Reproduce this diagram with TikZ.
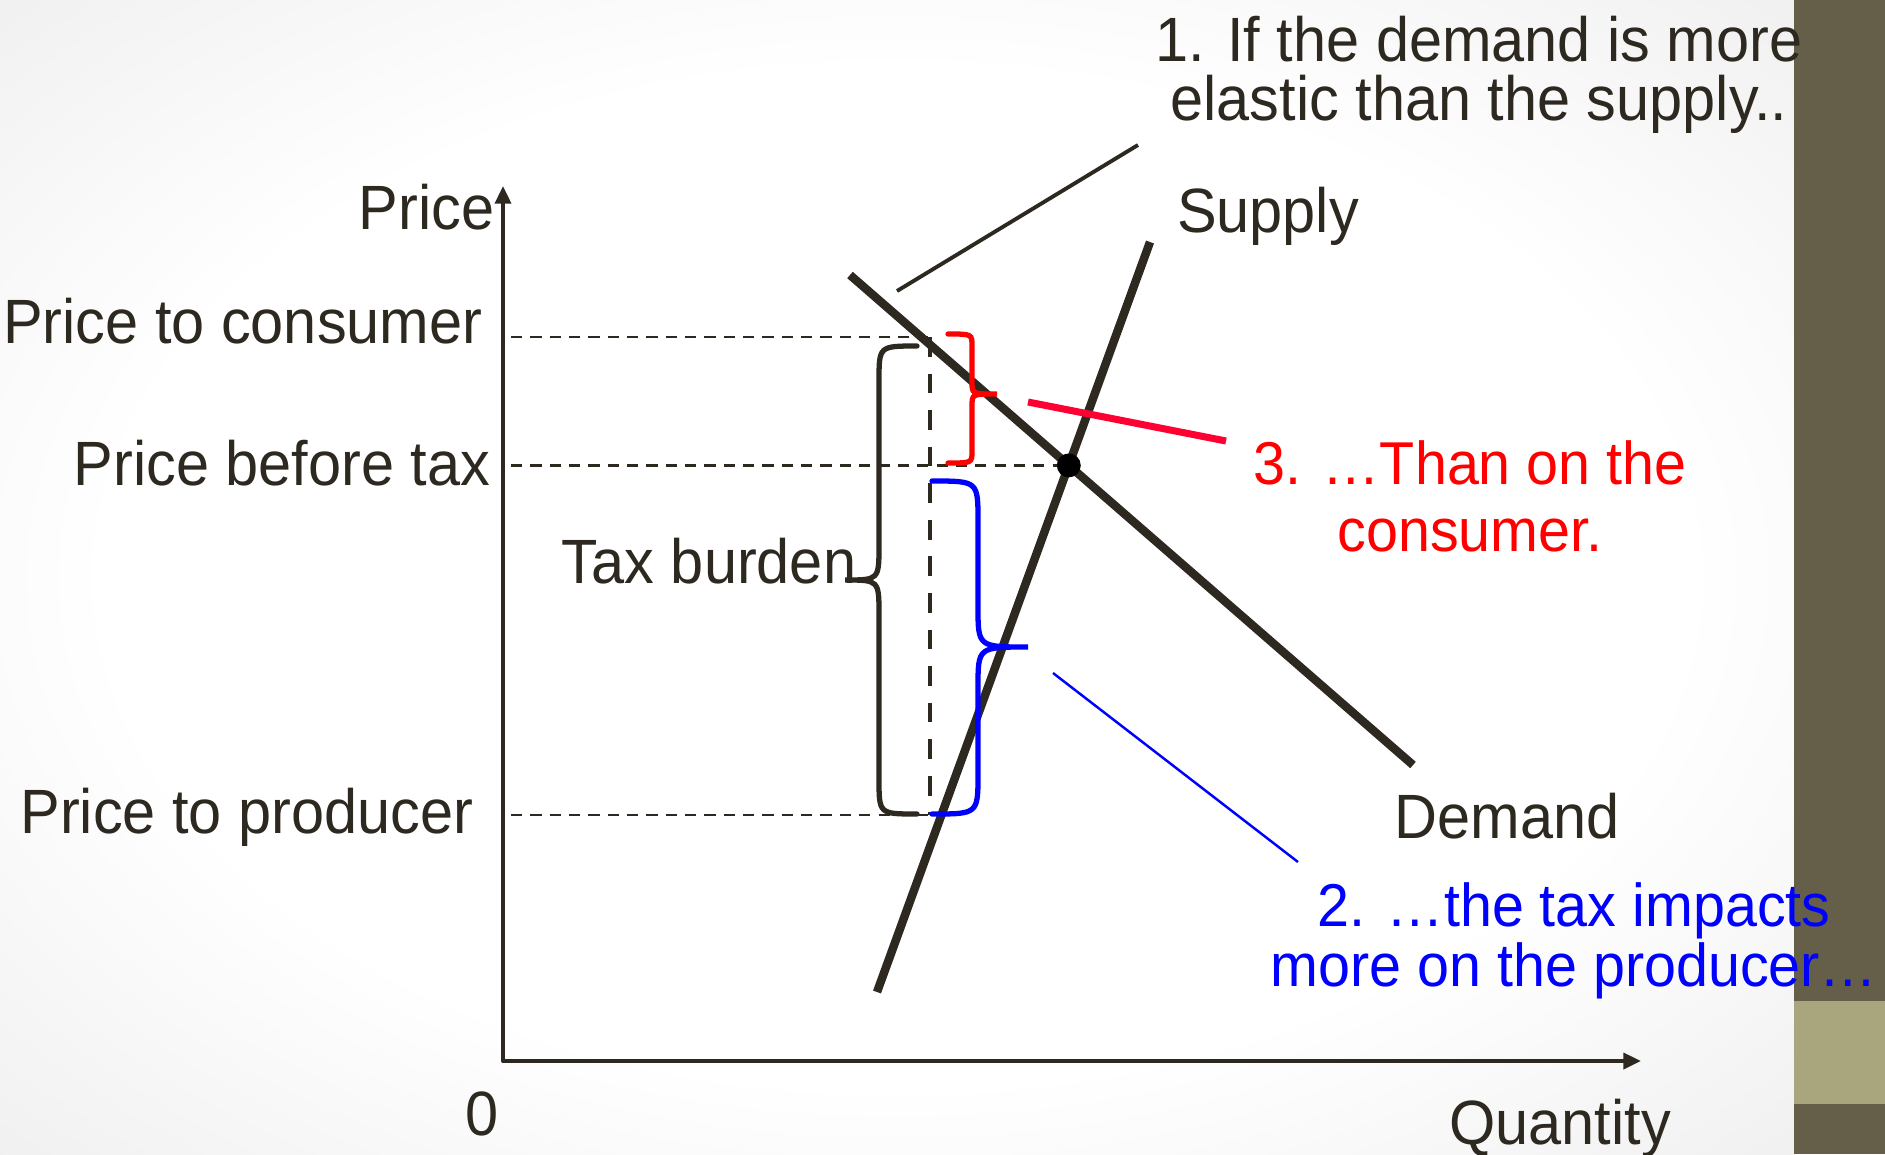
\documentclass[tikz,border=0pt]{standalone}
\usepackage{fontspec}
\setmainfont{Liberation Sans}[FakeStretch=0.95]
\usepackage{tikz}
\usetikzlibrary{arrows.meta,positioning}
\definecolor{ink}{RGB}{45,41,32}
\definecolor{taxred}{RGB}{255,0,0}
\definecolor{linered}{RGB}{255,0,51}
\definecolor{taxblue}{RGB}{0,0,255}
\definecolor{bardark}{RGB}{101,94,73}
\definecolor{barlight}{RGB}{169,165,124}
\pgfdeclareradialshading{slidebg}{\pgfpoint{0bp}{0bp}}{color(0bp)=(white); color(22bp)=(white); color(50bp)=(black!12)}
\tikzset{
  lbl/.style={text=ink, inner sep=0pt, align=center, font=\fontsize{17.8}{16.5}\selectfont},
  curve/.style={draw=ink, line width=2.4pt},
  axis/.style={draw=ink, line width=1.1pt, line join=round,
    {Triangle[length=5pt,width=4.5pt]}-{Triangle[length=5pt,width=4.5pt]}},
  guide/.style={draw=ink, line width=0.7pt, dash pattern=on 3.2pt off 2.3pt},
  taxline/.style={draw=ink, line width=1.4pt, dash pattern=on 5.6pt off 4.8pt},
  brc/.style={line width=1.5pt, line cap=round},
  pointer/.style={line width=1.1pt}
}

\begin{document}
\begin{tikzpicture}[x=0.01cm, y=-0.01cm]
    \useasboundingbox (0,0) rectangle (1885,1154);

    % Slide background and side bar.
    \shade[shading=slidebg] (0,0) rectangle (1794,1154);
    \fill[bardark] (1794,0) rectangle (1885,1154);
    \fill[barlight] (1794,1001) rectangle (1885,1104);

    % Axes.
    \coordinate (origin) at (503,1061);
    \coordinate (ytip) at (503,186);
    \coordinate (xtip) at (1641,1061);
    \draw[axis] (ytip) -- (origin) -- (xtip);

    % Demand and supply.
    \coordinate (dtop) at (850,275);
    \coordinate (dbot) at (1413,765);
    \coordinate (sbot) at (877,992);
    \coordinate (stop) at (1150,242);
    \coordinate (eq) at (intersection of dtop--dbot and sbot--stop);

    % Price levels.
    \coordinate (pc) at (511,337);
    \coordinate (pp) at (511,815);
    \coordinate (pcx) at (930,337);
    \coordinate (ppx) at (930,815);
    \draw[guide] (pc) -- (pcx);
    \draw[guide] (pc |- eq) -- (eq);
    \draw[guide] (pp) -- (ppx);
    \draw[taxline] (pcx) -- (ppx);

    \draw[curve] (dtop) -- (dbot);
    \draw[curve] (sbot) -- (stop);
    \fill[black] (eq) circle[radius=3.4pt];

    % Braces: whole tax, consumer share, producer share.
    \draw[brc, ink] (917,346) .. controls (879,346) .. (879,381) -- (879,545)
      .. controls (879,580) .. (845,580) .. controls (879,580) .. (879,615)
      -- (879,779) .. controls (879,814) .. (917,814);
    \draw[brc, taxred] (948,334) .. controls (972,334) .. (972,346) -- (972,382)
      .. controls (972,394) .. (997,394) .. controls (972,394) .. (972,406)
      -- (972,451) .. controls (972,463) .. (948,463);
    \draw[brc, taxblue] (932,481) .. controls (978,481) .. (978,521) -- (978,607)
      .. controls (978,647) .. (1028,647) .. controls (978,647) .. (978,687)
      -- (978,774) .. controls (978,814) .. (932,814);

    % Axis and curve labels.
    \node[lbl, anchor=base east] (plabel) at (495,229) {Price};
    \node[lbl, anchor=base east] (pcons) at (483,343) {Price to consumer};
    \node[lbl, anchor=base east] (pbef) at (491,485) {Price before tax};
    \node[lbl, anchor=base east] (pprod) at (474,833) {Price to producer};
    \node[lbl, anchor=base] (zero) at (482,1135) {0};
    \node[lbl, anchor=base] (qlabel) at (1560,1144) {Quantity};
    \node[lbl, anchor=base] (slabel) at (1268,232) {Supply};
    \node[lbl, anchor=base] (dlabel) at (1507,838) {Demand};
    \node[lbl, anchor=base] (burden) at (709,583) {Tax burden};

    % Callouts.
    \coordinate (c1a) at (897,291);
    \coordinate (c1b) at (1138,145);
    \coordinate (c3a) at (1028,402);
    \coordinate (c3b) at (1226,441);
    \coordinate (c2a) at (1053,673);
    \coordinate (c2b) at (1298,862);
    \draw[pointer, ink] (c1a) -- (c1b);
    \draw[pointer, linered, line width=2pt] (c3a) -- (c3b);
    \draw[pointer, taxblue, line width=0.7pt] (c2a) -- (c2b);

    % Multi-line notes sit on the baseline of their last line.
    \node[lbl, anchor=base] (note1) at (1479,120)
      {1. If the demand is more\\elastic than the supply..};
    \node[lbl, text=taxred, anchor=base, font=\fontsize{17.2}{19}\selectfont]
      (note3) at (1470,551) {3. …Than on the\\consumer.};
    \node[lbl, text=taxblue, anchor=base, font=\fontsize{17.2}{17}\selectfont]
      (note2) at (1574,986) {2. …the tax impacts\\more on the producer…};
  \end{tikzpicture}
\end{document}
